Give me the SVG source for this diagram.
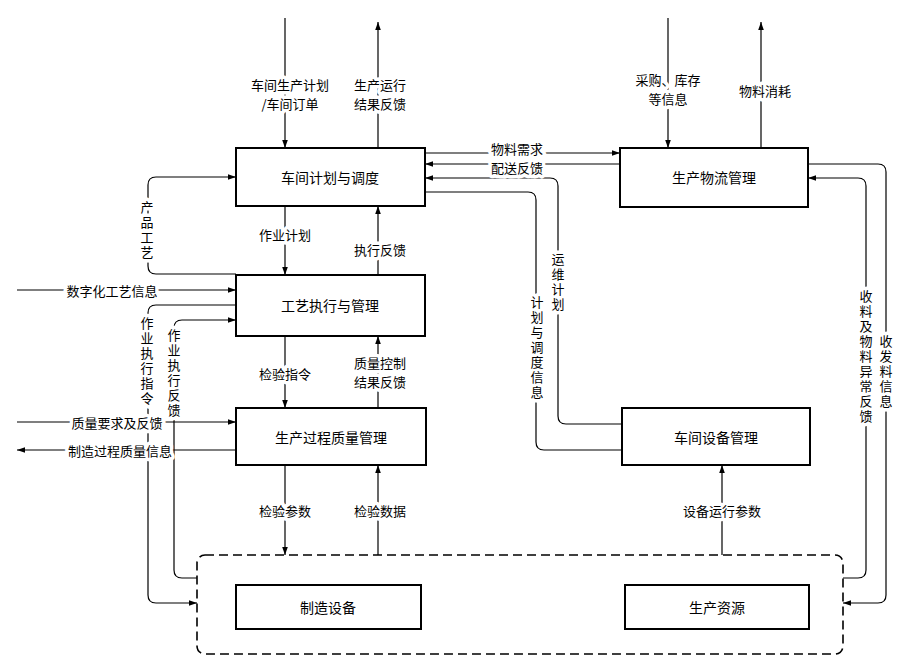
<svg xmlns="http://www.w3.org/2000/svg" width="909" height="665" viewBox="0 0 909 665">
<defs>
<marker id="a" viewBox="0 0 10 10" refX="10" refY="5" markerWidth="11" markerHeight="8" markerUnits="userSpaceOnUse" orient="auto"><path d="M0,1.5 L10,5 L0,8.5 Z" fill="#000"/></marker>
<style>
.b{fill:#fff;stroke:#000;stroke-width:2}
.c{fill:none;stroke:#000;stroke-width:1.2;stroke-linejoin:round}
.t{font-family:"Noto Sans CJK SC",sans-serif;font-size:14px;fill:#000;text-anchor:middle;dominant-baseline:central}
.l{font-family:"Noto Sans CJK SC",sans-serif;font-size:13px;fill:#000;text-anchor:middle;dominant-baseline:central;stroke:#fff;stroke-width:7;paint-order:stroke;stroke-linejoin:round}
.v{writing-mode:vertical-rl;letter-spacing:2px}
</style>
</defs>
<rect width="909" height="665" fill="#fff"/>
<g id="connectors">
<path class="c" d="M285,18V148" marker-end="url(#a)"/>
<path class="c" d="M378,148V22" marker-end="url(#a)"/>
<path class="c" d="M668,18V148" marker-end="url(#a)"/>
<path class="c" d="M761,148V22" marker-end="url(#a)"/>
<path class="c" d="M425,153H620" marker-end="url(#a)"/>
<path class="c" d="M620,164H425" marker-end="url(#a)"/>
<path class="c" d="M622,424H566Q558,424 558,416V186Q558,178 550,178H425" marker-end="url(#a)"/>
<path class="c" d="M425,192H528Q536,192 536,200V442Q536,450 544,450H622"/>
<path class="c" d="M843,578H858Q866,578 866,570V186Q866,178 858,178H808" marker-end="url(#a)"/>
<path class="c" d="M808,164H878Q886,164 886,172V595Q886,603 878,603H843" marker-end="url(#a)"/>
<path class="c" d="M722,555V465" marker-end="url(#a)"/>
<path class="c" d="M285,465V555" marker-end="url(#a)"/>
<path class="c" d="M378,555V465" marker-end="url(#a)"/>
<path class="c" d="M285,336V408" marker-end="url(#a)"/>
<path class="c" d="M378,408V336" marker-end="url(#a)"/>
<path class="c" d="M285,206V275" marker-end="url(#a)"/>
<path class="c" d="M378,275V206" marker-end="url(#a)"/>
<path class="c" d="M236,274H156Q148,274 148,266V185Q148,177 156,177H236" marker-end="url(#a)"/>
<path class="c" d="M17,290H236" marker-end="url(#a)"/>
<path class="c" d="M236,305H156Q148,305 148,313V595Q148,603 156,603H197" marker-end="url(#a)"/>
<path class="c" d="M197,578H182Q174,578 174,570V328Q174,320 182,320H236" marker-end="url(#a)"/>
<path class="c" d="M17,422H236" marker-end="url(#a)"/>
<path class="c" d="M236,450H17" marker-end="url(#a)"/>
</g>
<g id="container"><rect x="197" y="555" width="646" height="99" rx="8" fill="none" stroke="#000" stroke-width="1.6" stroke-dasharray="9,5"/></g>
<g id="n1"><rect class="b" x="236" y="148" width="189" height="58"/><text class="t" x="330" y="177">车间计划与调度</text></g>
<g id="n2"><rect class="b" x="236" y="275" width="189" height="61"/><text class="t" x="330" y="305">工艺执行与管理</text></g>
<g id="n3"><rect class="b" x="236" y="408" width="190" height="57"/><text class="t" x="331" y="437">生产过程质量管理</text></g>
<g id="n4"><rect class="b" x="620" y="148" width="188" height="59"/><text class="t" x="714" y="177">生产物流管理</text></g>
<g id="n5"><rect class="b" x="622" y="408" width="188" height="57"/><text class="t" x="716" y="437">车间设备管理</text></g>
<g id="n6"><rect class="b" x="236" y="585" width="185" height="44"/><text class="t" x="328" y="607">制造设备</text></g>
<g id="n7"><rect class="b" x="625" y="585" width="184" height="44"/><text class="t" x="717" y="607">生产资源</text></g>
<g id="labels">
<text class="l" x="290" y="84">车间生产计划</text><text class="l" x="290" y="103">/车间订单</text>
<text class="l" x="380" y="84">生产运行</text><text class="l" x="380" y="103">结果反馈</text>
<text class="l" x="668" y="79">采购、库存</text><text class="l" x="668" y="98">等信息</text>
<text class="l" x="765" y="90">物料消耗</text>
<text class="l" x="517" y="148">物料需求</text>
<text class="l" x="517" y="167">配送反馈</text>
<text class="l v" x="558" y="283">运维计划</text>
<text class="l v" x="537" y="348">计划与调度信息</text>
<text class="l v" x="866" y="357">收料及物料异常反馈</text>
<text class="l v" x="886" y="372">收发料信息</text>
<text class="l" x="722" y="510">设备运行参数</text>
<text class="l" x="285" y="510">检验参数</text>
<text class="l" x="380" y="510">检验数据</text>
<text class="l" x="285" y="373">检验指令</text>
<text class="l" x="380" y="362">质量控制</text><text class="l" x="380" y="381">结果反馈</text>
<text class="l" x="285" y="234">作业计划</text>
<text class="l" x="380" y="249">执行反馈</text>
<text class="l v" x="147" y="231">产品工艺</text>
<text class="l" x="112" y="290">数字化工艺信息</text>
<text class="l v" x="147" y="362">作业执行指令</text>
<text class="l v" x="174" y="374">作业执行反馈</text>
<text class="l" x="117" y="422">质量要求及反馈</text>
<text class="l" x="120" y="450">制造过程质量信息</text>
</g>
</svg>
